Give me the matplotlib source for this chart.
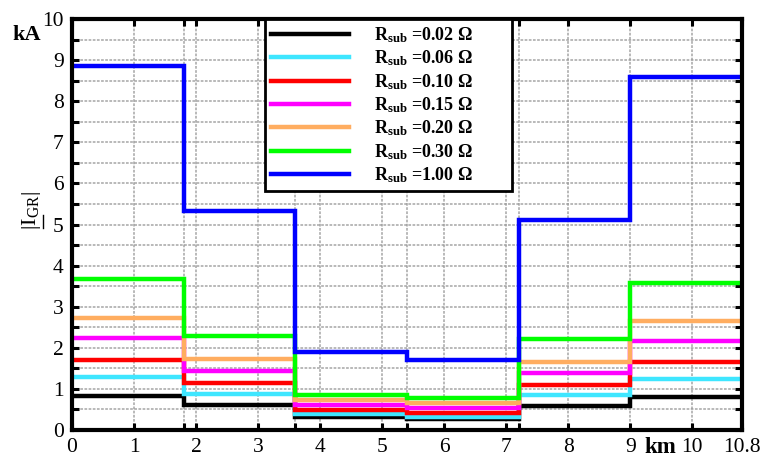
import numpy as np
import matplotlib
matplotlib.use("Agg")
import matplotlib.pyplot as plt

plt.rcParams['font.family'] = ['Liberation Serif', 'DejaVu Serif']
plt.rcParams['mathtext.fontset'] = 'custom'
plt.rcParams['mathtext.rm'] = 'Liberation Serif'
plt.rcParams['mathtext.bf'] = 'Liberation Serif:bold'
plt.rcParams['mathtext.it'] = 'Liberation Serif:italic'

# section boundaries along the line (km)
edges = [0, 1.8, 3.6, 5.4, 7.2, 9.0, 10.8]

# |I_GR| in kA for each section, one list per substation resistance
i_002 = [0.83, 0.61, 0.31, 0.26, 0.59, 0.80]
i_006 = [1.28, 0.87, 0.38, 0.32, 0.85, 1.23]
i_010 = [1.70, 1.14, 0.49, 0.42, 1.09, 1.65]
i_015 = [2.23, 1.44, 0.61, 0.53, 1.38, 2.16]
i_020 = [2.72, 1.73, 0.73, 0.65, 1.66, 2.65]
i_030 = [3.67, 2.29, 0.85, 0.77, 2.21, 3.57]
i_100 = [8.85, 5.33, 1.90, 1.70, 5.12, 8.58]

series = [i_002, i_006, i_010, i_015, i_020, i_030, i_100]
labels = ['0.02', '0.06', '0.10', '0.15', '0.20', '0.30', '1.00']
colors = ['#000000', '#3ee6ff', '#ff0000', '#ff00ff', '#ffad60', '#00ff00', '#0000ff']

fig = plt.figure(figsize=(7.63, 4.57), dpi=100)
ax = fig.add_axes([72 / 763, 27 / 457, 670 / 763, 411 / 457])

for vals, lab, col in zip(series, labels, colors):
    ax.stairs(vals, edges, baseline=None, color=col, lw=3.2,
              label=r'$\mathbf{R_{sub}}$ =' + lab + ' \u03a9' + ' ' * 8)

ax.set_xlim(0, 10.8)
ax.set_ylim(0, 10)

major_x = [0, 1, 2, 3, 4, 5, 6, 7, 8, 9, 10, 10.8]
ax.set_xticks(major_x)
ax.set_xticklabels(['0', '1', '2', '3', '4', '5', '6', '7', '8', '9', '10', '10.8'])
ax.set_xticks([1.8, 3.6, 5.4, 7.2], minor=True)
ax.set_yticks(range(0, 11))
ax.set_yticks(np.arange(0.5, 10, 1.0), minor=True)

ax.tick_params(which='both', direction='in', top=True, right=True,
               width=2.2, labelsize=15.5, pad=6, length=5)

ax.grid(which='both', color='#9a9a9a', lw=1.3, ls=(0, (1.5, 0.8)), alpha=0.75)
ax.set_axisbelow(True)
for sp in ax.spines.values():
    sp.set_linewidth(3)

leg = ax.legend(loc='upper left', bbox_to_anchor=(0.288, 1.0), borderaxespad=0,
                fancybox=False, framealpha=1, edgecolor='black',
                handlelength=4.3, handletextpad=1.4, borderpad=0.35,
                labelspacing=0.2,
                prop={'family': 'Liberation Serif', 'weight': 'bold', 'size': 13})
leg.get_frame().set_linewidth(2)

ax.text(-0.067, 0.96, 'kA', transform=ax.transAxes, fontsize=16,
        fontweight='bold', ha='center', va='center')
ax.text(9.48, -0.017, 'km', transform=ax.get_xaxis_transform(), fontsize=16.5,
        fontweight='bold', ha='center', va='top')
ax.text(-0.06, 0.535, r'$|\mathrm{I}_{\mathrm{GR}}|$', transform=ax.transAxes,
        fontsize=16, rotation=90, ha='center', va='center')
# underline under the I of the ylabel
ax.plot([-0.043, -0.043], [0.492, 0.524], transform=ax.transAxes, color='black',
        lw=1, clip_on=False)

fig.savefig('out.png', dpi=100, facecolor='white')
